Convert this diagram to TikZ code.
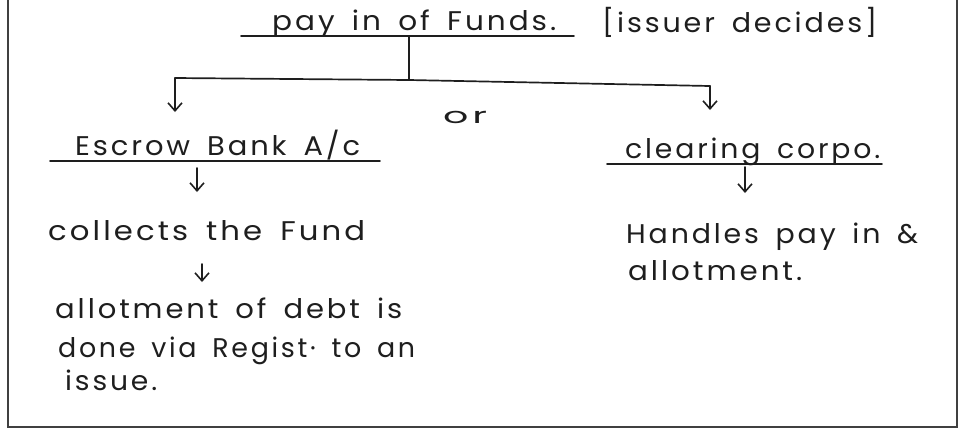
\documentclass[tikz,border=0pt]{standalone}
\usepackage{fontspec}
\setmainfont{Poppins}[LetterSpace=10,WordSpace=1.6]
\usetikzlibrary{arrows.meta}
\newcommand{\hw}[2]{\resizebox{#1pt}{\height}{#2}}
\definecolor{ink}{HTML}{1E1E1E}
\begin{document}
\begin{tikzpicture}[x=1pt,y=-1pt,
  txt/.style={anchor=base west,inner sep=0pt,text=ink,font=\fontsize{27}{32}\selectfont},
  ln/.style={draw=ink,line width=1.7pt,line cap=round},
  arr/.style={ln,-{Straight Barb[length=8pt,width=14pt,line width=1.6pt]}}]
\useasboundingbox (0,0) rectangle (966,432);
% frame
\draw[ln,line width=1.4pt,draw=ink!85] (8,0) -- (8,427) -- (957,427) -- (957,0);
% texts
\node[txt] (title) at (272,30) {\hw{284}{pay in of Funds.}};
\node[txt] (issuer) at (602,32) {\hw{275}{[issuer decides]}};
\node[txt,font=\fontsize{22}{26}\selectfont] (or) at (443,123) {\hw{44}{or}};
\node[txt] (escrow) at (75,155) {\hw{285}{Escrow Bank A/c}};
\node[txt] (collects) at (48,240) {\hw{317}{collects the Fund}};
\node[txt] (allotA) at (55,318) {\hw{347}{allotment of debt is}};
\node[txt] (allotB) at (58,357) {\hw{357}{done via Regist· to an}};
\node[txt] (allotC) at (65,390) {\hw{92}{issue.}};
\node[txt] (clearing) at (625,158) {\hw{255}{clearing corpo.}};
\node[txt] (handles) at (626,243) {\hw{292}{Handles pay in \&}};
\node[txt] (allotR) at (628,280) {\hw{174}{allotment.}};
% coordinates
\coordinate (tL) at (241,36); \coordinate (tR) at (574,36); \coordinate (tM) at (409,36);
\coordinate (bM) at (409,80); \coordinate (bL) at (175,78); \coordinate (bR) at (710,86);
\coordinate (aL) at (175,112); \coordinate (aR) at (710,110);
\coordinate (eL) at (50,161); \coordinate (eR) at (380,161);
\coordinate (e1) at (197,168); \coordinate (e2) at (197,192);
\coordinate (c1) at (202,264); \coordinate (c2) at (202,282);
\coordinate (kL) at (607,164); \coordinate (kR) at (882,164);
\coordinate (k1) at (745,167); \coordinate (k2) at (745,193);
% lines
\draw[ln] (tL) -- (tR);
\draw[ln] (tM) -- (bM);
\draw[ln] (bL) -- (bM) -- (bR);
\draw[arr] (bL) -- (aL);
\draw[arr] (bR) -- (aR);
\draw[ln] (eL) -- (eR);
\draw[arr] (e1) -- (e2);
\draw[arr] (c1) -- (c2);
\draw[ln] (kL) -- (kR);
\draw[arr] (k1) -- (k2);
\end{tikzpicture}
\end{document}
